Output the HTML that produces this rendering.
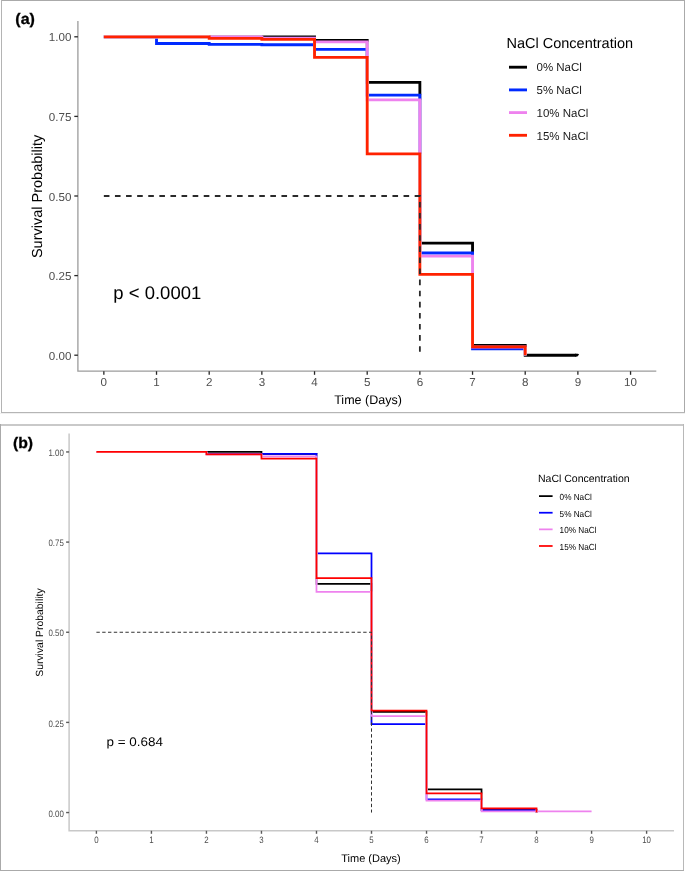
<!DOCTYPE html>
<html><head><meta charset="utf-8"><style>
html,body{margin:0;padding:0;background:#fff;}
svg{display:block;}
#w{will-change:transform;}
text{font-family:"Liberation Sans", sans-serif;-webkit-font-smoothing:antialiased;text-rendering:geometricPrecision;}
</style></head><body>
<div id="w"><svg width="685" height="871" viewBox="0 0 685 871" font-family='&quot;Liberation Sans&quot;, sans-serif'>
<rect x="0" y="0" width="685" height="871" fill="#ffffff"/>

<rect x="1" y="0" width="684" height="1" fill="#aaaaaa"/>
<rect x="1" y="0" width="1" height="413" fill="#b4b4b4"/>
<rect x="684" y="0" width="1" height="413" fill="#aaaaaa"/>
<rect x="1" y="412" width="684" height="1" fill="#b5b5b5"/>
<rect x="0" y="413" width="685" height="1" fill="#f0f0f0"/>
<rect x="0" y="424" width="684" height="2" fill="#c9c9c9"/>
<rect x="0" y="424" width="1" height="447" fill="#aaaaaa"/>
<rect x="683" y="424" width="1" height="447" fill="#b8b8b8"/>
<rect x="0" y="870" width="684" height="1" fill="#aaaaaa"/>

<path d="M77.9 20.9 L77.9 371.2 L656.3 371.2" fill="none" stroke="#9c9c9c" stroke-width="1.3"/>
<line x1="74.3" y1="355.2" x2="77.9" y2="355.2" stroke="#262626" stroke-width="1.3"/>
<text x="71.4" y="359.8" text-anchor="end" font-size="11.6" fill="#4d4d4d">0.00</text>
<line x1="74.3" y1="275.6" x2="77.9" y2="275.6" stroke="#262626" stroke-width="1.3"/>
<text x="71.4" y="280.2" text-anchor="end" font-size="11.6" fill="#4d4d4d">0.25</text>
<line x1="74.3" y1="196" x2="77.9" y2="196" stroke="#262626" stroke-width="1.3"/>
<text x="71.4" y="200.6" text-anchor="end" font-size="11.6" fill="#4d4d4d">0.50</text>
<line x1="74.3" y1="116.4" x2="77.9" y2="116.4" stroke="#262626" stroke-width="1.3"/>
<text x="71.4" y="121" text-anchor="end" font-size="11.6" fill="#4d4d4d">0.75</text>
<line x1="74.3" y1="36.8" x2="77.9" y2="36.8" stroke="#262626" stroke-width="1.3"/>
<text x="71.4" y="41.4" text-anchor="end" font-size="11.6" fill="#4d4d4d">1.00</text>
<line x1="103.85" y1="371.2" x2="103.85" y2="374.8" stroke="#262626" stroke-width="1.3"/>
<text x="103.85" y="386.2" text-anchor="middle" font-size="11.6" fill="#4d4d4d">0</text>
<line x1="156.52" y1="371.2" x2="156.52" y2="374.8" stroke="#262626" stroke-width="1.3"/>
<text x="156.52" y="386.2" text-anchor="middle" font-size="11.6" fill="#4d4d4d">1</text>
<line x1="209.19" y1="371.2" x2="209.19" y2="374.8" stroke="#262626" stroke-width="1.3"/>
<text x="209.19" y="386.2" text-anchor="middle" font-size="11.6" fill="#4d4d4d">2</text>
<line x1="261.86" y1="371.2" x2="261.86" y2="374.8" stroke="#262626" stroke-width="1.3"/>
<text x="261.86" y="386.2" text-anchor="middle" font-size="11.6" fill="#4d4d4d">3</text>
<line x1="314.53" y1="371.2" x2="314.53" y2="374.8" stroke="#262626" stroke-width="1.3"/>
<text x="314.53" y="386.2" text-anchor="middle" font-size="11.6" fill="#4d4d4d">4</text>
<line x1="367.2" y1="371.2" x2="367.2" y2="374.8" stroke="#262626" stroke-width="1.3"/>
<text x="367.2" y="386.2" text-anchor="middle" font-size="11.6" fill="#4d4d4d">5</text>
<line x1="419.87" y1="371.2" x2="419.87" y2="374.8" stroke="#262626" stroke-width="1.3"/>
<text x="419.87" y="386.2" text-anchor="middle" font-size="11.6" fill="#4d4d4d">6</text>
<line x1="472.54" y1="371.2" x2="472.54" y2="374.8" stroke="#262626" stroke-width="1.3"/>
<text x="472.54" y="386.2" text-anchor="middle" font-size="11.6" fill="#4d4d4d">7</text>
<line x1="525.21" y1="371.2" x2="525.21" y2="374.8" stroke="#262626" stroke-width="1.3"/>
<text x="525.21" y="386.2" text-anchor="middle" font-size="11.6" fill="#4d4d4d">8</text>
<line x1="577.88" y1="371.2" x2="577.88" y2="374.8" stroke="#262626" stroke-width="1.3"/>
<text x="577.88" y="386.2" text-anchor="middle" font-size="11.6" fill="#4d4d4d">9</text>
<line x1="630.55" y1="371.2" x2="630.55" y2="374.8" stroke="#262626" stroke-width="1.3"/>
<text x="630.55" y="386.2" text-anchor="middle" font-size="11.6" fill="#4d4d4d">10</text>
<path d="M103.85 36.8 L314.53 36.8 L314.53 40.33 L367.2 40.33 L367.2 82.33 L419.87 82.33 L419.87 243.12 L472.54 243.12 L472.54 345.3 L525.21 345.3 L525.21 355.2 L576.3 355.2" fill="none" stroke="#000000" stroke-width="2.85" stroke-linejoin="miter" stroke-linecap="butt"/>
<path d="M156.52 36.8 L156.52 43.49 M209.19 43.49 L209.19 44.44 M261.86 44.44 L261.86 44.76 M314.53 44.76 L314.53 49.44 M367.2 49.44 L367.2 95.07 M419.87 95.07 L419.87 252.99 M472.54 252.99 L472.54 348.83 M525.21 348.83 L525.21 355.2 M103.85 36.8 L156.52 36.8 M525.21 355.2 L525.21 355.2" fill="none" stroke="#ffffff" stroke-width="2.85" stroke-linecap="butt"/>
<path d="M103.85 36.8 L156.52 36.8 L156.52 43.49 L209.19 43.49 L209.19 44.44 L261.86 44.44 L261.86 44.76 L314.53 44.76 L314.53 49.44 L367.2 49.44 L367.2 95.07 L419.87 95.07 L419.87 252.99 L472.54 252.99 L472.54 348.83 L525.21 348.83 L525.21 355.2 L525.21 355.2" fill="none" stroke="#002aff" stroke-width="2.85" stroke-linejoin="miter" stroke-linecap="butt"/>
<path d="M261.86 36.8 L261.86 38.07 M314.53 38.07 L314.53 41.83 M367.2 41.83 L367.2 99.84 M419.87 99.84 L419.87 256.18 M472.54 256.18 L472.54 346.99 M525.21 346.99 L525.21 355.2 M103.85 36.8 L261.86 36.8 M525.21 355.2 L525.21 355.2" fill="none" stroke="#ffffff" stroke-width="2.85" stroke-linecap="butt"/>
<path d="M103.85 36.8 L261.86 36.8 L261.86 38.07 L314.53 38.07 L314.53 41.83 L367.2 41.83 L367.2 99.84 L419.87 99.84 L419.87 256.18 L472.54 256.18 L472.54 346.99 L525.21 346.99 L525.21 355.2 L525.21 355.2" fill="none" stroke="#ee82ee" stroke-width="2.85" stroke-linejoin="miter" stroke-linecap="butt"/>
<path d="M209.19 36.8 L209.19 38.39 M261.86 38.39 L261.86 39.35 M314.53 39.35 L314.53 57.34 M367.2 57.34 L367.2 153.81 M419.87 153.81 L419.87 274.33 M472.54 274.33 L472.54 346.92 M525.21 346.92 L525.21 355.2 M103.85 36.8 L209.19 36.8 M525.21 355.2 L525.21 355.2" fill="none" stroke="#ffffff" stroke-width="2.85" stroke-linecap="butt"/>
<path d="M103.85 36.8 L209.19 36.8 L209.19 38.39 L261.86 38.39 L261.86 39.35 L314.53 39.35 L314.53 57.34 L367.2 57.34 L367.2 153.81 L419.87 153.81 L419.87 274.33 L472.54 274.33 L472.54 346.92 L525.21 346.92 L525.21 355.2 L525.21 355.2" fill="none" stroke="#ff2200" stroke-width="2.85" stroke-linejoin="miter" stroke-linecap="butt"/>
<polygon points="575.0,353.78 578.0,353.78 579.1,354.6 577.4,356.62 575.0,356.62" fill="#000"/>
<path d="M103.85 196 L419.87 196 L419.87 355.2" fill="none" stroke="#2a2a2a" stroke-width="1.8" stroke-dasharray="5.6 5.5"/>
<text x="506.5" y="47.6" font-size="14.5" fill="#000">NaCl Concentration</text>
<line x1="509" y1="67.2" x2="527" y2="67.2" stroke="#000000" stroke-width="2.85"/>
<text x="536.5" y="71.4" font-size="11.5" fill="#1a1a1a">0% NaCl</text>
<line x1="509" y1="89.9" x2="527" y2="89.9" stroke="#002aff" stroke-width="2.85"/>
<text x="536.5" y="94.1" font-size="11.5" fill="#1a1a1a">5% NaCl</text>
<line x1="509" y1="112.6" x2="527" y2="112.6" stroke="#ee82ee" stroke-width="2.85"/>
<text x="536.5" y="116.8" font-size="11.5" fill="#1a1a1a">10% NaCl</text>
<line x1="509" y1="135.3" x2="527" y2="135.3" stroke="#ff2200" stroke-width="2.85"/>
<text x="536.5" y="139.5" font-size="11.5" fill="#1a1a1a">15% NaCl</text>
<text x="368" y="403.7" text-anchor="middle" font-size="12.5" fill="#000">Time (Days)</text>
<text transform="translate(42.2 196.4) rotate(-90)" text-anchor="middle" font-size="14.5" fill="#000">Survival Probability</text>
<text transform="translate(113.3 298.8) scale(1.012 1)" font-size="18.3" fill="#000">p &lt; 0.0001</text>
<text transform="translate(15.3 24) scale(1.05 1)" font-size="15.3" font-weight="bold" fill="#000" stroke="#000" stroke-width="0.3">(a)</text>
<path d="M69.1 433.5 L69.1 830.8 L674 830.8" fill="none" stroke="#c8c8c8" stroke-width="1.5"/>
<line x1="66.1" y1="812.55" x2="69.1" y2="812.55" stroke="#5a5a5a" stroke-width="1.4"/>
<text transform="translate(63.8 816.65) scale(0.84 1)" text-anchor="end" font-size="9.4" fill="#4d4d4d">0.00</text>
<line x1="66.1" y1="722.4" x2="69.1" y2="722.4" stroke="#5a5a5a" stroke-width="1.4"/>
<text transform="translate(63.8 726.5) scale(0.84 1)" text-anchor="end" font-size="9.4" fill="#4d4d4d">0.25</text>
<line x1="66.1" y1="632.25" x2="69.1" y2="632.25" stroke="#5a5a5a" stroke-width="1.4"/>
<text transform="translate(63.8 636.35) scale(0.84 1)" text-anchor="end" font-size="9.4" fill="#4d4d4d">0.50</text>
<line x1="66.1" y1="542.1" x2="69.1" y2="542.1" stroke="#5a5a5a" stroke-width="1.4"/>
<text transform="translate(63.8 546.2) scale(0.84 1)" text-anchor="end" font-size="9.4" fill="#4d4d4d">0.75</text>
<line x1="66.1" y1="451.95" x2="69.1" y2="451.95" stroke="#5a5a5a" stroke-width="1.4"/>
<text transform="translate(63.8 456.05) scale(0.84 1)" text-anchor="end" font-size="9.4" fill="#4d4d4d">1.00</text>
<line x1="96.4" y1="830.8" x2="96.4" y2="833.8" stroke="#5a5a5a" stroke-width="1.4"/>
<text transform="translate(96.4 843) scale(0.84 1)" text-anchor="middle" font-size="9.4" fill="#4d4d4d">0</text>
<line x1="151.42" y1="830.8" x2="151.42" y2="833.8" stroke="#5a5a5a" stroke-width="1.4"/>
<text transform="translate(151.42 843) scale(0.84 1)" text-anchor="middle" font-size="9.4" fill="#4d4d4d">1</text>
<line x1="206.44" y1="830.8" x2="206.44" y2="833.8" stroke="#5a5a5a" stroke-width="1.4"/>
<text transform="translate(206.44 843) scale(0.84 1)" text-anchor="middle" font-size="9.4" fill="#4d4d4d">2</text>
<line x1="261.46" y1="830.8" x2="261.46" y2="833.8" stroke="#5a5a5a" stroke-width="1.4"/>
<text transform="translate(261.46 843) scale(0.84 1)" text-anchor="middle" font-size="9.4" fill="#4d4d4d">3</text>
<line x1="316.48" y1="830.8" x2="316.48" y2="833.8" stroke="#5a5a5a" stroke-width="1.4"/>
<text transform="translate(316.48 843) scale(0.84 1)" text-anchor="middle" font-size="9.4" fill="#4d4d4d">4</text>
<line x1="371.5" y1="830.8" x2="371.5" y2="833.8" stroke="#5a5a5a" stroke-width="1.4"/>
<text transform="translate(371.5 843) scale(0.84 1)" text-anchor="middle" font-size="9.4" fill="#4d4d4d">5</text>
<line x1="426.52" y1="830.8" x2="426.52" y2="833.8" stroke="#5a5a5a" stroke-width="1.4"/>
<text transform="translate(426.52 843) scale(0.84 1)" text-anchor="middle" font-size="9.4" fill="#4d4d4d">6</text>
<line x1="481.54" y1="830.8" x2="481.54" y2="833.8" stroke="#5a5a5a" stroke-width="1.4"/>
<text transform="translate(481.54 843) scale(0.84 1)" text-anchor="middle" font-size="9.4" fill="#4d4d4d">7</text>
<line x1="536.56" y1="830.8" x2="536.56" y2="833.8" stroke="#5a5a5a" stroke-width="1.4"/>
<text transform="translate(536.56 843) scale(0.84 1)" text-anchor="middle" font-size="9.4" fill="#4d4d4d">8</text>
<line x1="591.58" y1="830.8" x2="591.58" y2="833.8" stroke="#5a5a5a" stroke-width="1.4"/>
<text transform="translate(591.58 843) scale(0.84 1)" text-anchor="middle" font-size="9.4" fill="#4d4d4d">9</text>
<line x1="646.6" y1="830.8" x2="646.6" y2="833.8" stroke="#5a5a5a" stroke-width="1.4"/>
<text transform="translate(646.6 843) scale(0.84 1)" text-anchor="middle" font-size="9.4" fill="#4d4d4d">10</text>
<path d="M96.4 451.95 L261.46 451.95 L261.46 453.93 L316.48 453.93 L316.48 583.93 L371.5 583.93 L371.5 711.76 L426.52 711.76 L426.52 789.36 L481.54 789.36 L481.54 809.85 L536.56 809.85 L536.56 812.55 L536.56 812.55" fill="none" stroke="#000000" stroke-width="1.75" stroke-linejoin="miter" stroke-linecap="butt"/>
<path d="M206.44 451.95 L206.44 453.93 M316.48 453.93 L316.48 553.28 M371.5 553.28 L371.5 724.2 M426.52 724.2 L426.52 799.35 M481.54 799.35 L481.54 810.17 M536.56 810.17 L536.56 812.55 M96.4 451.95 L206.44 451.95 M536.56 812.55 L536.56 812.55" fill="none" stroke="#ffffff" stroke-width="1.75" stroke-linecap="butt"/>
<path d="M96.4 451.95 L206.44 451.95 L206.44 453.93 L316.48 453.93 L316.48 553.28 L371.5 553.28 L371.5 724.2 L426.52 724.2 L426.52 799.35 L481.54 799.35 L481.54 810.17 L536.56 810.17 L536.56 812.55 L536.56 812.55" fill="none" stroke="#0000ff" stroke-width="1.75" stroke-linejoin="miter" stroke-linecap="butt"/>
<path d="M206.44 451.95 L206.44 454.4 M261.46 454.4 L261.46 456.46 M316.48 456.46 L316.48 591.86 M371.5 591.86 L371.5 716.05 M426.52 716.05 L426.52 800.54 M481.54 800.54 L481.54 811.4 M96.4 451.95 L206.44 451.95" fill="none" stroke="#ffffff" stroke-width="1.75" stroke-linecap="butt"/>
<path d="M96.4 451.95 L206.44 451.95 L206.44 454.4 L261.46 454.4 L261.46 456.46 L316.48 456.46 L316.48 591.86 L371.5 591.86 L371.5 716.05 L426.52 716.05 L426.52 800.54 L481.54 800.54 L481.54 811.4 L591.58 811.4" fill="none" stroke="#ee82ee" stroke-width="1.75" stroke-linejoin="miter" stroke-linecap="butt"/>
<path d="M206.44 451.95 L206.44 454.4 M261.46 454.4 L261.46 458.62 M316.48 458.62 L316.48 578.16 M371.5 578.16 L371.5 710.57 M426.52 710.57 L426.52 793.44 M481.54 793.44 L481.54 808.37 M536.56 808.37 L536.56 812.55 M96.4 451.95 L206.44 451.95 M536.56 812.55 L536.56 812.55" fill="none" stroke="#ffffff" stroke-width="1.75" stroke-linecap="butt"/>
<path d="M96.4 451.95 L206.44 451.95 L206.44 454.4 L261.46 454.4 L261.46 458.62 L316.48 458.62 L316.48 578.16 L371.5 578.16 L371.5 710.57 L426.52 710.57 L426.52 793.44 L481.54 793.44 L481.54 808.37 L536.56 808.37 L536.56 812.55 L536.56 812.55" fill="none" stroke="#ff0000" stroke-width="1.75" stroke-linejoin="miter" stroke-linecap="butt"/>
<path d="M96.4 632.25 L371.5 632.25 L371.5 812.55" fill="none" stroke="#333333" stroke-width="1.0" stroke-dasharray="3.4 2.4"/>
<text x="538" y="482" font-size="10.5" fill="#000">NaCl Concentration</text>
<line x1="539" y1="496.1" x2="552.6" y2="496.1" stroke="#000000" stroke-width="1.75"/>
<text transform="translate(559.6 500) scale(0.93 1)" font-size="8.8" fill="#000">0% NaCl</text>
<line x1="539" y1="512.73" x2="552.6" y2="512.73" stroke="#0000ff" stroke-width="1.75"/>
<text transform="translate(559.6 516.63) scale(0.93 1)" font-size="8.8" fill="#000">5% NaCl</text>
<line x1="539" y1="529.36" x2="552.6" y2="529.36" stroke="#ee82ee" stroke-width="1.75"/>
<text transform="translate(559.6 533.26) scale(0.93 1)" font-size="8.8" fill="#000">10% NaCl</text>
<line x1="539" y1="545.99" x2="552.6" y2="545.99" stroke="#ff0000" stroke-width="1.75"/>
<text transform="translate(559.6 549.89) scale(0.93 1)" font-size="8.8" fill="#000">15% NaCl</text>
<text x="371" y="861.7" text-anchor="middle" font-size="11" fill="#000">Time (Days)</text>
<text transform="translate(42.9 632.6) rotate(-90)" text-anchor="middle" font-size="10.4" fill="#000">Survival Probability</text>
<text transform="translate(106.5 745.8) scale(1.075 1)" font-size="12.5" fill="#000">p = 0.684</text>
<text transform="translate(13 448) scale(1.03 1)" font-size="15.3" font-weight="bold" fill="#000" stroke="#000" stroke-width="0.3">(b)</text>
</svg></div>
</body></html>
